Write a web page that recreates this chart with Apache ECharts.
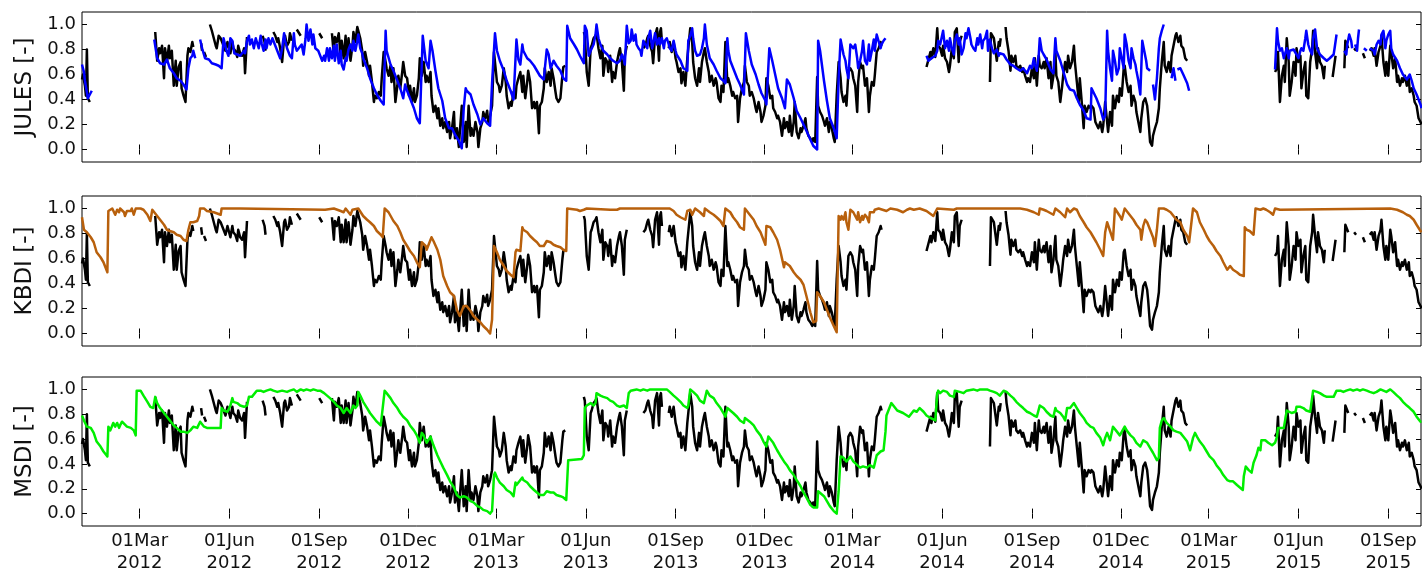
<!DOCTYPE html>
<html><head><meta charset="utf-8">
<script src="https://cdn.jsdelivr.net/npm/echarts@6/dist/echarts.min.js"></script>
<style>html,body{margin:0;padding:0;background:#fff}#c{width:1422px;height:574px}</style>
</head><body><div id="c"></div>
<script>
// x values are days since 2012-01-01; null marks a gap in the record
const START_DATE = '2012-01-01';
const X_RANGE_DAYS = [1, 1372.5];
const PANEL_NAMES = ['JULES [-]', 'KBDI [-]', 'MSDI [-]'];
const TICK_DATES = ['2012-03-01','2012-06-01','2012-09-01','2012-12-01','2013-03-01','2013-06-01','2013-09-01','2013-12-01','2014-03-01','2014-06-01','2014-09-01','2014-12-01','2015-03-01','2015-06-01','2015-09-01'];
const TICK_LABELS = ['01Mar\n2012','01Jun\n2012','01Sep\n2012','01Dec\n2012','01Mar\n2013','01Jun\n2013','01Sep\n2013','01Dec\n2013','01Mar\n2014','01Jun\n2014','01Sep\n2014','01Dec\n2014','01Mar\n2015','01Jun\n2015','01Sep\n2015'];
const Y_TICKS = [0.0, 0.2, 0.4, 0.6, 0.8, 1.0];

const OBS = [
[1,.56],[2,.6],[4,.51],[5,.43],[6,.8],[7,.41],[9,.38],null,
[76,.94],[78,.71],[80,.81],[81,.77],[83,.83],[85,.57],[86,.81],[88,.7],[90,.83],[91,.73],[93,.79],[95,.51],[97,.71],[98,.51],[100,.66],[102,.7],[103,.49],[105,.43],[107,.38],[109,.75],[110,.81],[112,.78],[114,.86],[115,.82],null,
[123,.85],[124,.79],null,[126,.78],[128,.74],null,
[132,1.0],[134,.95],[136,.94],[138,.83],[139,.81],[141,.91],[143,.89],[148,.79],[150,.86],[151,.83],[153,.77],[155,.86],[156,.81],[158,.79],[160,.74],[161,.83],[163,.77],[165,.75],[167,.81],[168,.61],[170,.9],null,
[186,.91],[188,.86],[189,.79],null,
[197,.94],[199,.91],[201,.86],[202,.89],[204,.81],[206,.7],[208,.89],[209,.91],[211,.83],[213,.86],[214,.93],[216,.87],null,
[221,.96],[225,.91],null,[244,.93],[247,.89],null,
[257,.93],[259,.75],[260,.9],[262,.86],[264,.93],[266,.73],[267,.87],[269,.73],[271,.91],[272,.73],[274,.89],[276,.71],[278,.83],[279,.94],[281,.86],[283,.98],[284,.97],[286,.89],[288,.79],[289,.67],[291,.78],[293,.7],[295,.59],[296,.67],[298,.54],[300,.38],[301,.43],[303,.41],[305,.46],[307,.43],[308,.57],[310,.78],[312,.7],[313,.65],[315,.59],[317,.67],[318,.54],[320,.65],[322,.38],[324,.51],[325,.59],[327,.49],[329,.62],[330,.7],[332,.59],[334,.57],[336,.43],[337,.51],[339,.38],[341,.49],[342,.38],[344,.43],[346,.57],[347,.73],[349,.59],[351,.7],[353,.54],[354,.59],[356,.54],[358,.62],[359,.43],[361,.3],[363,.35],[365,.25],[366,.33],[368,.19],[370,.25],[371,.17],[373,.22],[375,.14],[377,.22],[378,.09],[380,.17],[382,.3],[383,.09],[385,.17],[387,.02],[388,.14],[390,.35],[392,.06],[394,.22],[395,.02],[397,.35],[399,.11],[400,.17],[402,.11],[404,.22],
[406,.14],[407,.02],[409,.17],[411,.22],[412,.3],[414,.25],[416,.31],[417,.22],[419,.27],[421,.35],[423,.78],[424,.7],[426,.54],[428,.51],[429,.46],[431,.51],[433,.65],[435,.54],[436,.43],[438,.33],[440,.38],[441,.35],[443,.46],[445,.41],[446,.51],[448,.57],[450,.62],[452,.46],[453,.59],[455,.41],[457,.54],[458,.63],[460,.54],[462,.33],[464,.38],[465,.33],[467,.38],[469,.13],[470,.35],[472,.38],[474,.49],[475,.65],[477,.54],[479,.62],[481,.51],[482,.65],[484,.57],[486,.46],[487,.41],[489,.38],[491,.41],[493,.59],[494,.66],[496,.67],null,
[515,.94],[516,.91],[518,.62],[520,.51],[522,.81],[523,.83],[525,.89],[527,.91],[528,.93],[530,.81],[532,.73],[534,.83],[535,.59],[537,.73],[539,.7],[540,.62],[542,.75],[544,.54],[545,.62],[547,.57],[549,.7],[551,.78],[552,.81],[554,.7],[556,.47],[557,.75],[559,.83],null,
[576,.81],[578,.83],[580,.89],[581,.91],[583,.83],[585,.78],[586,.69],[588,.91],[590,.97],[592,.71],[593,.94],[594,.97],[595,.86],null,
[602,.81],[603,.86],[605,.78],[607,.86],[609,.73],[610,.7],[612,.62],[614,.65],[615,.53],[617,.62],[619,.51],[621,.73],[622,.81],[624,.97],[626,.86],[627,.7],[629,.57],[631,.51],[633,.65],[634,.54],[636,.7],[638,.78],[639,.81],[641,.7],[643,.62],[644,.54],[646,.59],[648,.51],[650,.57],[651,.54],[653,.41],[655,.38],[656,.51],[658,.46],[660,.86],[662,.54],[663,.57],[665,.51],[667,.43],[668,.46],[670,.41],[672,.43],[673,.22],[675,.41],[677,.49],[679,.54],[680,.67],[682,.54],[684,.51],[685,.43],[687,.46],[689,.41],[691,.33],[692,.3],[694,.38],[696,.3],[697,.22],[699,.27],[701,.35],[702,.57],[704,.51],[706,.41],[708,.43],[709,.33],[711,.3],[713,.25],[714,.27],[716,.22],[718,.11],[720,.25],[721,.17],[723,.22],[725,.14],[726,.27],[728,.11],[730,.22],[731,.38],[733,.14],[735,.09],[737,.17],[738,.14],[740,.19],[742,.25],[743,.17],[745,.11],[747,.09],[749,.06],[750,.09],[752,.06],[754,.58],[755,.35],[757,.3],[759,.27],[761,.22],[762,.19],[764,.25],[766,.14],[767,.22],[769,.17],[771,.09],[772,.06],[774,.43],[776,.7],[778,.57],[779,.46],[781,.38],[783,.43],[784,.35],[786,.62],[788,.65],[790,.62],[791,.57],[793,.51],[795,.3],[796,.54],[798,.7],[800,.65],[801,.67],[803,.51],[805,.57],[807,.3],[808,.43],[810,.54],[812,.51],[813,.59],[815,.78],[817,.81],[819,.86],[820,.83],null,
[866,.66],[868,.65],[870,.78],[871,.73],[873,.81],[875,.74],[877,.97],[878,.83],[880,.81],[882,.75],[883,.83],[885,.73],[887,.7],[889,.62],[890,.67],[892,.81],[894,.73],[895,.94],[897,.97],[899,.7],[900,.86],[902,.91],null,
[931,.54],[932,.93],[935,.89],[936,.83],[938,.71],[940,.86],[941,.83],[942,.89],null,
[947,.98],[948,.89],[950,.79],[952,.63],[953,.75],[955,.7],[957,.75],[958,.67],[960,.65],[962,.67],[964,.62],[965,.65],[967,.59],[969,.54],[970,.57],[972,.54],[974,.65],[976,.57],[977,.73],[979,.51],[981,.75],[982,.67],[984,.65],[986,.7],[987,.65],[989,.73],[991,.57],[993,.7],[994,.49],[996,.59],[998,.78],[999,.59],[1001,.54],[1003,.38],[1005,.51],[1006,.59],[1008,.7],[1010,.62],[1011,.75],[1013,.65],[1015,.7],[1017,.83],[1018,.7],[1020,.54],[1022,.38],[1023,.57],[1025,.38],[1027,.17],[1028,.35],[1030,.3],[1032,.35],[1034,.33],[1035,.35],[1037,.33],[1039,.22],[1040,.22],[1042,.17],[1044,.22],[1046,.14],[1047,.19],[1049,.38],[1051,.22],[1052,.14],[1054,.3],[1056,.19],[1057,.43],[1059,.33],[1061,.43],[1063,.38],[1064,.49],[1066,.43],[1068,.65],[1069,.67],[1071,.54],[1073,.46],[1075,.51],[1076,.35],[1078,.43],[1080,.38],[1081,.3],[1083,.22],[1085,.14],[1086,.25],[1088,.38],[1090,.41],[1092,.35],[1093,.27],[1095,.06],[1097,.03],[1098,.11],[1100,.17],[1102,.22],[1104,.33],[1105,.49],[1107,.7],[1109,.86],[1110,.67],[1112,.62],[1114,.7],[1116,.62],[1117,.75],[1119,.83],[1121,.91],[1122,.93],[1124,.86],[1126,.91],[1127,.83],[1129,.81],[1131,.73],[1133,.71],null,
[1223,.62],[1225,.65],[1226,.78],[1228,.38],[1230,.59],[1232,.67],[1233,.54],[1235,.89],[1237,.7],[1238,.43],[1240,.54],[1242,.7],[1244,.59],[1245,.81],[1247,.7],[1249,.75],[1250,.49],[1252,.62],[1254,.7],[1255,.43],[1257,.41],[1259,.7],[1261,.81],[1262,.95],[1264,.78],[1266,.65],[1267,.81],[1269,.7],[1271,.67],[1273,.57],[1274,.67],null,
[1282,.58],[1285,.75],null,
[1294,.65],[1295,.87],[1296,.86],[1298,.81],null,
[1304,.81],[1306,.79],null,
[1313,.77],[1315,.73],null,
[1320,.79],[1322,.81],[1324,.75],[1325,.81],[1327,.67],[1329,.78],[1331,.83],[1332,.91],[1334,.7],[1336,.59],[1337,.7],[1339,.59],[1341,.83],[1342,.78],[1344,.65],[1346,.73],[1348,.54],[1349,.59],[1351,.51],[1353,.57],[1354,.54],[1356,.59],[1358,.51],[1360,.57],[1361,.46],[1363,.49],[1365,.43],[1366,.38],[1368,.35],[1370,.25],[1372,.22],[1373,.2]
];

const JULES = [
[1,.68],[3,.62],[4,.55],[7,.41],[9,.44],[11,.47],null,
[75,.88],[78,.73],[81,.69],[85,.68],[88,.72],[91,.65],[95,.61],[98,.57],[102,.55],[105,.52],[108,.48],[110,.65],[112,.73],[114,.75],[115,.79],[117,.73],null,
[122,.88],[124,.81],[127,.73],[131,.72],[134,.69],[138,.68],[141,.67],[144,.65],[146,.89],[149,.79],[151,.75],[153,.89],[155,.87],[157,.77],[160,.76],[163,.75],[167,.79],[168,.77],[170,.87],[172,.91],[173,.84],[175,.88],[177,.81],[179,.89],[180,.88],[182,.81],[184,.91],[185,.85],[187,.79],[189,.88],[190,.81],[192,.89],[194,.84],[196,.89],[197,.88],[201,.79],[204,.73],[206,.81],[208,.93],[209,.87],[211,.81],[214,.75],[216,.73],[218,.93],[219,.84],[221,.79],[223,.81],[226,.84],[228,.76],[230,.89],[231,1.0],[233,.87],[235,.96],[237,.84],[238,.92],[240,.81],[243,.79],[247,.71],[249,.75],[250,.71],[252,.81],[254,.71],[255,.81],[257,.73],[259,.83],[260,.71],[262,.84],[264,.69],[266,.79],[267,.68],[269,.64],[271,.73],[272,.71],[274,.8],[276,.84],[278,.79],[279,.87],[281,.79],[283,.87],[284,.92],[286,.81],[288,.77],[289,.73],[293,.65],[296,.57],[300,.49],[303,.44],[307,.39],[310,.36],[312,.95],[313,.79],[317,.68],[320,.63],[324,.55],[327,.49],[330,.41],[332,.52],[334,.47],[337,.41],[341,.33],[344,.25],[347,.21],[350,.91],[353,.71],[354,.72],[356,.65],[358,.87],[360,.79],[363,.63],[366,.49],[370,.39],[373,.25],[377,.17],[380,.17],[383,.12],[387,.07],[390,.01],[392,.33],[394,.49],[395,.47],[399,.44],[402,.36],[406,.28],[409,.2],[412,.25],[416,.21],[419,.19],[421,.53],[424,.93],[426,.79],[429,.71],[433,.63],[436,.55],[440,.47],[443,.4],[446,.88],[448,.72],[450,.68],[452,.84],[453,.79],[457,.73],[460,.71],[464,.67],[467,.63],[470,.59],[474,.56],[475,.55],[477,.8],[479,.76],[481,.65],[484,.71],[487,.67],[491,.63],[494,.57],[497,.55],[498,.99],[501,.89],[505,.84],[508,.8],[511,.75],[515,.69],[516,.99],[518,.95],[520,.75],[522,.79],[523,.8],[525,.84],[527,.92],[528,1.0],[530,.89],[532,.84],[535,.79],[539,.76],[542,.73],[545,.71],[549,.69],[552,.71],[554,.76],[556,.72],[557,.68],[559,.99],[561,.85],[563,.87],[564,.96],[566,.87],[568,.92],[569,.84],[571,.81],[573,.79],[574,.75],[576,.87],[578,.84],[580,.81],[581,.89],[583,.95],[585,.81],[586,.84],[588,.93],[590,.84],[592,.89],[593,.84],[595,.89],[597,.81],[598,.87],[600,.89],[602,.84],[603,.81],[605,.79],[607,.87],[609,.79],[610,.76],[614,.71],[617,.65],[621,.63],[622,.87],[624,.91],[626,.97],[627,.89],[629,.79],[631,.75],[634,.76],[636,.81],[638,.89],[639,1.0],[641,.84],[644,.73],[648,.68],[651,.63],[655,.57],[658,.55],[660,.53],[662,.89],[663,.79],[665,.71],[668,.65],[672,.57],[675,.52],[679,.44],[681,.93],[684,.79],[687,.68],[691,.6],[694,.52],[697,.45],[701,.39],[702,.36],[705,.81],[708,.71],[711,.6],[714,.49],[718,.41],[721,.33],[723,.56],[726,.52],[730,.41],[733,.31],[737,.25],[740,.2],[743,.15],[747,.08],[750,.03],[754,0],[755,.87],[757,.79],[761,.55],[764,.39],[767,.25],[771,.17],[774,.09],[776,.57],[778,.88],[779,.87],[781,.76],[783,.71],[784,.65],[786,.57],[788,.84],[790,.85],[791,.81],[793,.84],[795,.73],[796,.65],[798,.71],[800,.79],[801,.87],[803,.71],[805,.68],[807,.84],[808,.71],[810,.79],[812,.88],[813,.79],[815,.92],[817,.91],[819,.81],[820,.84],[822,.87],[824,.89],null,
[866,.75],[868,.71],[871,.73],[875,.75],[877,.79],[878,.87],[880,.84],[883,.95],[885,.81],[887,.87],[889,.79],[890,.89],[892,.81],[894,.76],[895,.87],[897,.92],[899,.84],[900,.89],[902,.76],[904,.81],[906,.93],[907,.89],[909,.97],[911,.89],[912,.84],[914,.81],[916,.79],[918,.89],[919,.84],[921,.92],[923,.81],[924,.87],[926,.89],[928,.95],[929,.79],[931,.88],[933,.81],[935,.77],[938,.8],[940,.75],[941,.77],[945,.76],[948,.72],[952,.68],[955,.67],[958,.65],[962,.63],[965,.65],[969,.61],[972,.67],[974,.65],[976,.73],[977,.68],[979,.63],[981,.76],[982,.89],[984,.79],[986,.76],[989,.72],[993,.64],[996,.61],[998,.89],[999,.79],[1003,.71],[1006,.63],[1010,.52],[1013,.48],[1017,.47],[1020,.41],[1023,.36],[1027,.31],[1030,.25],[1034,.24],[1035,.49],[1037,.48],[1040,.41],[1044,.33],[1047,.24],[1049,.27],[1051,.95],[1052,.79],[1054,.65],[1056,.55],[1057,.79],[1059,.71],[1061,.6],[1063,.65],[1064,.81],[1066,.73],[1068,.65],[1069,.92],[1071,.84],[1073,.71],[1075,.65],[1076,.81],[1078,.73],[1080,.68],[1081,.63],[1083,.55],[1085,.44],[1086,.65],[1087,.87],[1089,.79],[1091,.71],[1092,.65],[1095,.63],null,
[1098,.52],[1100,.4],[1102,.57],[1104,.81],[1105,.89],[1107,.95],[1109,1.0],null,
[1117,.57],[1119,.65],[1121,.55],null,
[1123,.64],[1126,.65],[1129,.6],[1133,.53],[1135,.47],null,
[1223,.64],[1225,.97],[1226,.87],[1228,.79],[1230,.81],[1232,.73],[1233,.76],[1235,.81],[1237,.73],[1238,.79],[1242,.8],[1244,.81],[1245,.76],[1247,.73],[1249,.79],[1250,.81],[1252,.79],[1254,.89],[1255,.95],[1257,.84],[1259,.79],[1261,.76],[1262,.89],[1264,.96],[1266,.81],[1269,.76],[1273,.73],[1276,.71],[1279,.73],[1281,.72],[1283,.76],[1284,.81],[1286,.92],null,
[1294,.79],[1296,.76],[1297,.84],[1299,.92],[1301,.87],[1302,.81],null,
[1305,.84],[1307,.79],[1308,.89],[1309,.96],null,
[1314,.81],[1317,.79],null,
[1320,.81],[1324,.79],[1325,.76],[1327,.84],[1329,.87],[1331,.84],[1332,.92],[1334,.95],[1336,.81],[1337,.87],[1339,.92],[1341,.95],[1342,.81],[1344,.76],[1348,.71],[1351,.65],[1354,.6],[1358,.56],[1361,.6],[1363,.55],[1365,.49],[1368,.44],[1372,.36],[1373,.33]
];

const KBDI = [
[1,.93],[3,.83],[6,.81],[8,.79],[10,.77],[13,.73],[16,.65],[20,.61],[23,.57],[27,.49],[28,.98],[30,.99],[32,1.0],[33,.99],[35,.95],[37,.99],[39,.97],[40,1.0],[42,.99],[44,.97],[45,.94],[47,.98],[49,.97],[51,.98],[52,1.0],[54,.95],[56,1.0],[61,1.0],[64,.99],[68,.95],[71,.9],[73,.99],[74,.98],[78,.94],[81,.91],[85,.87],[88,.83],[91,.82],[95,.81],[98,.79],[102,.78],[105,.75],[108,.74],[110,.83],[112,.89],[115,.89],[119,.9],[121,.94],[122,1.0],[126,1.0],[129,.98],[136,.97],[143,.95],[144,1.0],[148,1.0],[150,.99],[153,1.0],[163,1.0],[250,.99],[259,1.0],[266,.98],[269,.97],[271,1.0],[276,.95],[278,.99],[279,1.0],[284,1.0],[289,.94],[293,.91],[296,.89],[300,.86],[303,.82],[307,.79],[309,.77],[311,1.0],[313,1.0],[315,.97],[320,.9],[324,.86],[327,.81],[330,.75],[334,.7],[337,.66],[341,.62],[344,.57],[347,.53],[349,.73],[353,.7],[354,.67],[358,.75],[359,.77],[361,.74],[365,.67],[368,.59],[371,.46],[375,.38],[378,.33],[382,.3],[385,.19],[388,.14],[392,.22],[395,.22],[399,.18],[402,.14],[406,.11],[409,.09],[412,.06],[416,.03],[419,0],[421,.11],[423,.7],[424,.69],[426,.65],[429,.59],[433,.54],[436,.5],[440,.47],[443,.45],[445,.65],[446,.67],[450,.66],[452,.85],[453,.83],[457,.81],[460,.78],[464,.75],[467,.73],[470,.7],[474,.7],[477,.74],[481,.73],[484,.71],[487,.7],[491,.69],[494,.67],[497,.66],[498,1.0],[508,.99],[511,.98],[515,.99],[518,1.0],[542,.99],[549,.99],[552,1.0],[603,1.0],[607,.98],[610,.95],[614,.93],[619,.91],[621,.98],[624,.99],[626,.95],[629,1.0],[631,.99],[634,.97],[638,.94],[639,1.0],[641,.99],[644,.97],[648,.95],[651,.93],[655,.9],[658,.86],[660,1.0],[662,.99],[665,.97],[668,.93],[672,.89],[675,.85],[679,.83],[680,1.0],[682,.99],[685,.95],[689,.91],[692,.86],[696,.81],[699,.75],[701,.71],[702,.86],[704,.87],[706,.85],[709,.81],[713,.75],[716,.67],[720,.53],[721,.57],[723,.58],[726,.54],[730,.49],[733,.46],[737,.43],[740,.39],[743,.3],[747,.17],[750,.09],[753,.1],[754,.33],[755,.34],[757,.3],[761,.25],[764,.19],[767,.13],[771,.06],[774,.01],[776,.94],[778,.91],[779,.94],[781,.91],[783,.97],[784,.89],[786,.83],[788,.99],[791,.97],[795,.91],[796,.97],[798,.89],[800,.94],[801,.91],[803,.95],[805,.93],[807,.89],[808,.97],[812,.97],[813,.99],[817,1.0],[825,.98],[829,1.0],[836,.99],[842,.97],[846,.99],[849,1.0],[853,.99],[859,1.0],[866,.98],[873,.94],[877,1.0],[894,.99],[897,1.0],[962,1.0],[969,.99],[976,.97],[981,.95],[982,1.0],[986,.99],[989,.98],[991,.99],[996,.95],[998,1.0],[1003,.97],[1008,.93],[1010,1.0],[1013,.97],[1017,1.0],[1020,.99],[1023,.94],[1027,.89],[1030,.85],[1034,.81],[1037,.77],[1040,.73],[1044,.67],[1047,.62],[1049,.81],[1051,.89],[1054,.82],[1057,.75],[1059,1.0],[1061,.99],[1064,.94],[1066,.91],[1068,.97],[1069,1.0],[1071,.98],[1075,.94],[1078,.91],[1081,.87],[1085,.83],[1086,.75],[1088,.86],[1090,.91],[1092,.89],[1095,.83],[1098,.77],[1100,.7],[1102,.83],[1104,1.0],[1109,1.0],[1112,.99],[1116,.97],[1119,.94],[1122,.91],[1126,.89],[1129,.83],[1133,.78],[1135,.73],[1139,1.0],[1143,.97],[1146,.89],[1150,.83],[1153,.78],[1156,.74],[1160,.7],[1163,.66],[1167,.62],[1170,.57],[1174,.51],[1177,.54],[1180,.51],[1184,.49],[1187,.47],[1191,.46],[1192,.85],[1194,.83],[1197,.82],[1201,.79],[1203,1.0],[1208,.99],[1211,1.0],[1214,.99],[1218,.97],[1221,.95],[1223,1.0],[1228,.99],[1230,1.0],[1341,1.0],[1348,.99],[1351,.98],[1354,.97],[1358,.95],[1361,.94],[1365,.91],[1368,.87],[1372,.82],[1373,.81]
];

const MSDI = [
[1,.79],[3,.75],[6,.7],[10,.69],[13,.65],[16,.58],[20,.54],[23,.5],[27,.46],[28,.7],[30,.67],[32,.71],[33,.73],[35,.7],[37,.73],[39,.69],[40,.71],[42,.74],[44,.73],[47,.7],[51,.69],[54,.67],[56,.63],[57,.99],[61,.99],[64,.95],[68,.9],[71,.86],[74,.85],[76,.94],[78,.89],[81,.85],[85,.81],[88,.78],[91,.75],[95,.71],[98,.69],[102,.66],[105,.66],[109,.65],[112,.67],[115,.7],[119,.69],[122,.74],[126,.7],[129,.69],[136,.69],[143,.69],[144,.85],[146,.83],[150,.82],[153,.87],[155,.93],[156,.9],[160,.89],[163,.87],[167,.86],[170,.87],[172,.94],[173,.95],[175,.94],[177,.95],[180,.99],[184,.99],[187,.98],[190,.99],[194,1.0],[197,.99],[201,.98],[206,.99],[211,.98],[214,.99],[218,1.0],[221,.98],[225,1.0],[228,.99],[231,1.0],[235,.99],[238,1.0],[242,.99],[245,.99],[249,.97],[252,.95],[255,.93],[259,.9],[262,.87],[266,.85],[269,.81],[272,.85],[276,.81],[279,.87],[281,.85],[283,.87],[284,.98],[286,.95],[289,.9],[293,.85],[296,.81],[300,.77],[303,.74],[307,.71],[309,.7],[311,.99],[313,.97],[317,.93],[320,.89],[324,.85],[327,.81],[330,.78],[334,.75],[337,.71],[341,.67],[344,.63],[347,.57],[349,.65],[351,.63],[354,.57],[358,.62],[359,.61],[361,.55],[365,.47],[368,.42],[371,.37],[375,.31],[378,.26],[382,.21],[385,.15],[388,.13],[392,.14],[395,.13],[399,.1],[402,.09],[406,.06],[409,.05],[412,.03],[416,.02],[419,0],[421,.02],[423,.31],[424,.33],[426,.29],[429,.25],[433,.22],[436,.19],[440,.17],[443,.14],[445,.25],[446,.23],[448,.22],[450,.27],[452,.29],[453,.27],[457,.25],[460,.22],[464,.19],[467,.17],[470,.15],[474,.15],[477,.18],[481,.17],[484,.17],[487,.15],[491,.14],[494,.13],[497,.11],[499,.43],[501,.44],[513,.44],[515,.47],[516,.85],[518,.87],[522,.89],[525,.87],[527,.89],[528,.97],[532,.95],[535,.94],[539,.93],[542,.91],[545,.9],[549,.87],[552,.86],[556,.87],[559,.85],[561,.97],[563,.99],[569,1.0],[573,.99],[576,1.0],[580,.99],[583,1.0],[600,1.0],[603,.98],[607,.95],[610,.93],[614,.9],[617,.87],[621,.85],[622,.87],[624,1.0],[627,.98],[631,.95],[634,.91],[638,.89],[641,.99],[644,.95],[648,.93],[651,.89],[655,.85],[658,.81],[660,.78],[662,.85],[665,.83],[668,.81],[672,.78],[675,.75],[679,.73],[680,.77],[682,.77],[685,.74],[689,.71],[692,.67],[696,.63],[699,.58],[702,.54],[704,.62],[706,.61],[709,.57],[713,.51],[716,.47],[720,.42],[723,.39],[726,.35],[730,.31],[733,.27],[737,.22],[740,.17],[743,.13],[747,.07],[750,.05],[754,.05],[755,.18],[757,.17],[761,.14],[764,.1],[767,.06],[771,.02],[774,0],[776,.18],[778,.46],[781,.45],[784,.42],[788,.46],[791,.42],[795,.39],[798,.37],[801,.38],[805,.37],[808,.39],[812,.37],[815,.47],[819,.5],[822,.51],[824,.66],[825,.79],[830,.89],[832,.87],[836,.83],[839,.82],[842,.81],[848,.78],[849,.79],[853,.83],[856,.82],[859,.85],[863,.82],[866,.79],[870,.77],[875,.75],[877,.97],[878,.99],[880,.97],[883,.99],[887,.98],[890,.95],[894,.94],[895,.99],[897,.99],[900,.98],[904,.97],[907,.99],[914,1.0],[918,.99],[921,1.0],[928,1.0],[931,.99],[935,.98],[938,.97],[941,.95],[945,.99],[948,.98],[952,.95],[955,.93],[958,.9],[962,.87],[965,.85],[969,.82],[972,.81],[976,.79],[979,.78],[981,.77],[982,.87],[986,.85],[989,.82],[993,.79],[996,.78],[998,.85],[999,.83],[1003,.81],[1006,.78],[1008,.75],[1010,.85],[1013,.85],[1017,.89],[1020,.85],[1023,.81],[1027,.77],[1030,.73],[1034,.7],[1035,.71],[1037,.69],[1040,.65],[1044,.61],[1047,.55],[1049,.61],[1051,.65],[1052,.63],[1054,.59],[1057,.7],[1061,.66],[1064,.63],[1066,.62],[1069,.7],[1071,.67],[1075,.63],[1078,.61],[1081,.57],[1085,.54],[1088,.59],[1092,.57],[1095,.53],[1098,.49],[1102,.43],[1104,.45],[1105,.69],[1107,.75],[1109,.77],[1112,.73],[1116,.7],[1119,.67],[1122,.66],[1126,.65],[1129,.62],[1133,.58],[1136,.51],[1139,.61],[1141,.65],[1143,.62],[1146,.58],[1150,.54],[1153,.5],[1156,.46],[1160,.43],[1163,.39],[1167,.35],[1170,.31],[1174,.27],[1177,.26],[1180,.26],[1184,.23],[1187,.21],[1190,.19],[1191,.3],[1193,.38],[1196,.35],[1199,.33],[1201,.41],[1204,.47],[1206,.53],[1208,.51],[1209,.59],[1213,.59],[1216,.57],[1220,.55],[1223,.57],[1225,.62],[1226,.69],[1228,.7],[1232,.69],[1233,.7],[1235,.83],[1237,.82],[1240,.81],[1244,.82],[1245,.86],[1249,.86],[1252,.85],[1255,.83],[1259,.82],[1261,.81],[1262,.99],[1264,1.0],[1266,.98],[1269,.97],[1273,.95],[1276,.94],[1283,.94],[1284,.93],[1286,.99],[1290,.99],[1293,.98],[1296,.99],[1300,1.0],[1303,.99],[1307,1.0],[1310,.99],[1313,1.0],[1317,.99],[1320,.98],[1324,.97],[1327,.98],[1331,1.0],[1334,.99],[1337,.98],[1341,1.0],[1344,.98],[1348,.95],[1351,.93],[1354,.9],[1358,.87],[1361,.85],[1365,.82],[1368,.78],[1372,.74],[1373,.74]
];

const MODEL_SERIES = [JULES, KBDI, MSDI];
const MODEL_COLORS = ['#0000ff', '#b8600c', '#00ee00'];
const OBS_COLOR = '#000000';

const DAY = 86400000;
function parseDate(s){ const p = s.split('-').map(Number); return Date.UTC(p[0], p[1]-1, p[2]); }
const EPOCH = parseDate(START_DATE);
const TICK_TS = TICK_DATES.map(parseDate);
const labelByTs = {}; TICK_TS.forEach((t,i)=>{ labelByTs[t] = TICK_LABELS[i]; });

function toSeriesData(arr){
  const out = []; let last = 0;
  for (const p of arr){
    if (p === null){ out.push([EPOCH + (last + 0.5) * DAY, '-']); }
    else { last = p[0]; out.push([EPOCH + p[0] * DAY, p[1]]); }
  }
  return out;
}

const FONT = 'DejaVu Sans';
const TXT = '#111';
const GRID_TOPS = [12, 196, 377];
const grids = GRID_TOPS.map(t => ({left: 82, width: 1339, top: t, height: 150, show: true, borderColor: '#000', borderWidth: 1, backgroundColor: 'transparent'}));

const xAxes = [], yAxes = [], series = [];
for (let i = 0; i < 3; i++){
  const tick = {show: true, inside: true, length: 5, customValues: TICK_TS, lineStyle: {color: '#000', width: 1}};
  xAxes.push({
    type: 'value', gridIndex: i, position: 'bottom',
    min: EPOCH + X_RANGE_DAYS[0] * DAY, max: EPOCH + X_RANGE_DAYS[1] * DAY,
    axisLine: {show: false}, splitLine: {show: false}, axisTick: tick,
    axisLabel: {show: i === 2, customValues: TICK_TS, formatter: v => labelByTs[v] || '',
      fontFamily: FONT, fontSize: 18, lineHeight: 22, color: TXT, margin: 4, hideOverlap: false}
  });
  xAxes.push({
    type: 'value', gridIndex: i, position: 'top',
    min: EPOCH + X_RANGE_DAYS[0] * DAY, max: EPOCH + X_RANGE_DAYS[1] * DAY,
    axisLine: {show: false}, splitLine: {show: false}, axisTick: tick,
    axisLabel: {show: false, customValues: TICK_TS}
  });
  const ytick = {show: true, inside: true, length: 5, customValues: Y_TICKS, lineStyle: {color: '#000', width: 1}};
  yAxes.push({
    type: 'value', gridIndex: i, position: 'left', min: -0.1, max: 1.1,
    axisLine: {show: false}, splitLine: {show: false}, axisTick: ytick,
    axisLabel: {customValues: Y_TICKS, formatter: v => Number(v).toFixed(1), fontFamily: FONT, fontSize: 18, color: TXT, margin: 6},
    name: PANEL_NAMES[i], nameLocation: 'middle', nameRotate: 90, nameGap: 42,
    nameTextStyle: {fontFamily: FONT, fontSize: 23, color: TXT}
  });
  yAxes.push({
    type: 'value', gridIndex: i, position: 'right', min: -0.1, max: 1.1,
    axisLine: {show: false}, splitLine: {show: false}, axisTick: ytick,
    axisLabel: {show: false, customValues: Y_TICKS}
  });
  series.push({
    type: 'line', xAxisIndex: 2*i, yAxisIndex: 2*i, data: toSeriesData(OBS),
    symbol: 'none', connectNulls: false, z: 2,
    lineStyle: {color: OBS_COLOR, width: 2.5, join: 'round'}
  });
  series.push({
    type: 'line', xAxisIndex: 2*i, yAxisIndex: 2*i, data: toSeriesData(MODEL_SERIES[i]),
    symbol: 'none', connectNulls: false, z: 3,
    lineStyle: {color: MODEL_COLORS[i], width: 2.5, join: 'round'}
  });
}

const chart = echarts.init(document.getElementById('c'), null, {renderer: 'canvas'});
chart.setOption({animation: false, backgroundColor: '#fff', grid: grids, xAxis: xAxes, yAxis: yAxes, series: series});
</script>
</body></html>
